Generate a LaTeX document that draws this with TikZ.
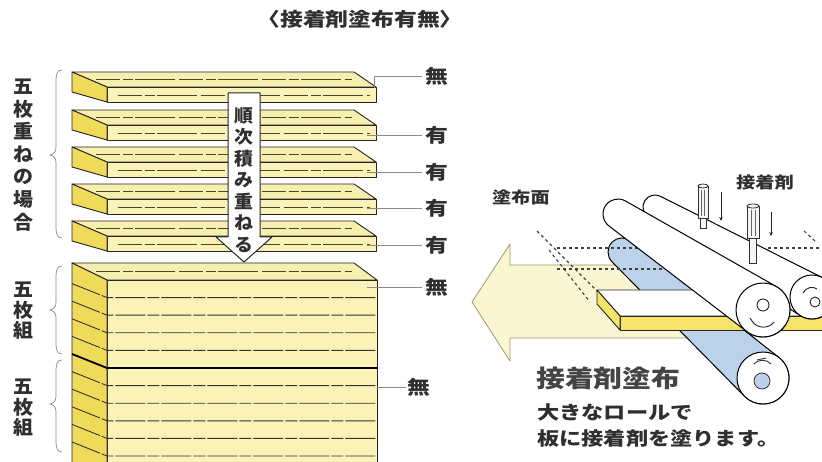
\documentclass[tikz,border=0pt]{standalone}
\usepackage{fontspec}
\usepackage{graphicx}
\usetikzlibrary{arrows.meta}
\newfontfamily\jp{Noto Sans CJK JP}[FakeStretch=1.2]
\newfontfamily\jpn{Noto Sans CJK JP}[FakeStretch=1.05]

\definecolor{woodtop}{HTML}{F7EFAE}
\definecolor{woodfront}{HTML}{FAF2B6}
\definecolor{woodend}{HTML}{F0DA5A}
\definecolor{grain}{HTML}{4A4628}
\definecolor{leadergray}{HTML}{8A8A8A}
\definecolor{ink}{HTML}{2F2F2F}
\definecolor{arrowfill}{HTML}{FBF6D2}
\definecolor{arrowline}{HTML}{9A9A68}
\definecolor{rollblue}{HTML}{BCD2EA}
\definecolor{plankyellow}{HTML}{F5E36A}

\tikzset{
  board/.style={draw=black!85, line width=0.9pt, line join=round},
  grainline/.style={draw=grain, line width=0.8pt,
    dash pattern=on 24pt off 3pt on 10pt off 2pt on 40pt off 4pt},
  layerline/.style={draw=black!80, line width=0.9pt,
    dash pattern=on 30pt off 2pt on 12pt off 2pt},
  leader/.style={draw=leadergray, line width=0.8pt},
  lbl/.style={font=\jp\bfseries\fontsize{19}{19}\selectfont, text=ink,
    inner xsep=3pt, inner ysep=0pt},
  vlbl/.style={font=\jpn\bfseries\fontsize{19}{22.6}\selectfont, text=ink,
    align=center, inner sep=0pt},
  bracestroke/.style={draw=leadergray, line width=0.7pt},
  roller/.style={draw=black, line width=1pt, line join=round},
  coatline/.style={draw=black!75, line width=1.1pt, dash pattern=on 3pt off 3pt},
  nozzlebody/.style={draw=black!80, fill=gray!8, line width=0.8pt},
  drip/.style={draw=black!85, line width=0.9pt, -{Stealth[length=4pt,width=3.5pt]}},
  caption/.style={text=ink, inner sep=0pt, anchor=west},
}

% one loose plank: #1 = y of its back top edge
\newcommand\plank[1]{%
  \filldraw[board, fill=woodtop] (72,#1) -- (354,#1) -- (376,#1+15) -- (107,#1+15) -- cycle;
  \filldraw[board, fill=woodfront] (107,#1+15) -- (376,#1+15) -- (376,#1+30) -- (107,#1+30) -- cycle;
  \filldraw[board, fill=woodend] (72,#1) -- (107,#1+15) -- (107,#1+30) -- (72,#1+20) -- cycle;
  \draw[grainline] (96,#1+7) -- (352,#1+7);
  \draw[grainline] (118,#1+23) -- (370,#1+23);
}

% curly brace on the left: top, tip, bottom
\newcommand\sidebrace[3]{%
  \draw[bracestroke] (62,#1) .. controls (57,#1) and (56,#1+4) .. (56,#1+12)
    -- (56,#2-8) .. controls (56,#2-3) and (54,#2-1) .. (50,#2)
    .. controls (54,#2+1) and (56,#2+3) .. (56,#2+8)
    -- (56,#3-12) .. controls (56,#3-4) and (57,#3) .. (62,#3);
}

% tapered roller: far cap centre (#1,#2) radius #3, near end centre (#4,#5) radius #6, fill #7
\newcommand\rollerhull[7]{%
  \pgfmathsetmacro\rlrdx{#4-#1}%
  \pgfmathsetmacro\rlrdy{#5-#2}%
  \pgfmathsetmacro\rlrlen{10*veclen(\rlrdx/10,\rlrdy/10)}%
  \pgfmathsetmacro\rlrphi{atan2(\rlrdy,\rlrdx)}%
  \pgfmathsetmacro\rlralp{asin((#6-#3)/\rlrlen)}%
  \pgfmathsetmacro\rlrlo{\rlrphi+90+\rlralp}%
  \pgfmathsetmacro\rlrup{\rlrphi-90-\rlralp}%
  \pgfmathsetmacro\rlrupp{\rlrup+360}%
  \filldraw[roller, fill=#7]
    ({#1+#3*cos(\rlrup)},{#2+#3*sin(\rlrup)})
    -- ({#4+#6*cos(\rlrup)},{#5+#6*sin(\rlrup)})
    arc[start angle=\rlrup, end angle=\rlrlo, radius=#6]
    -- ({#1+#3*cos(\rlrlo)},{#2+#3*sin(\rlrlo)})
    arc[start angle=\rlrlo, end angle=\rlrupp, radius=#3] -- cycle;
  \filldraw[roller, fill=white] (#4,#5) circle[radius=#6];
}

% glue nozzle: centre x, top, body bottom, tip bottom, half width
\newcommand\nozzle[5]{%
  \filldraw[nozzlebody] (#1-#5*0.6,#3-1) rectangle (#1+#5*0.6,#4);
  \filldraw[nozzlebody] (#1-#5,#2) rectangle (#1+#5,#3);
  \filldraw[nozzlebody] (#1,#2) ellipse[x radius=#5, y radius=2];
  \draw[black!60, line width=0.6pt] (#1-#5*0.35,#2+4) -- (#1-#5*0.35,#3-2);
  \draw[black!60, line width=0.6pt] (#1+#5*0.3,#2+4) -- (#1+#5*0.3,#3-2);
}

\begin{document}
\begin{tikzpicture}[x=1pt,y=-1pt]
\useasboundingbox (0,0) rectangle (822,462);
\fill[white] (0,0) rectangle (822,462);
\begin{scope}
\clip (0,0) rectangle (822,462);

% ---------- heading ----------
\node[font=\jp\bfseries\fontsize{19}{19}\selectfont, text=ink, inner sep=0pt] (heading) at (360,19) {〈接着剤塗布有無〉};

% ---------- five loose planks ----------
\foreach \yb in {72,110,147,184,221} { \plank{\yb} }

% ---------- glued block of two five-ply sets ----------
\filldraw[board, fill=woodfront] (107,280) -- (377,280) -- (377,470) -- (107,470) -- cycle;
\filldraw[board, fill=woodtop] (72,263) -- (354,263) -- (377,280) -- (107,280) -- cycle;
\filldraw[board, fill=woodend] (72,263) -- (107,280) -- (107,470) -- (72,470) -- cycle;
\draw[grainline] (96,271) -- (352,271);
\foreach \k in {1,2,3,4,6,7,8,9,10} {
  \draw[layerline] (72,{266+17.6*\k}) -- (107,{280+17.6*\k}) -- (377,{280+17.6*\k});
}
\draw[black, line width=1.8pt] (72,354) -- (107,368) -- (377,368);

% ---------- stacking arrow ----------
\filldraw[draw=black!85, fill=white, line width=1pt, line join=round]
  (228,93) -- (260,93) -- (260,237) -- (272,237) -- (244,262) -- (216,237) -- (228,237) -- cycle;
\node[vlbl, font=\jpn\bfseries\fontsize{18}{21.5}\selectfont] (stackverb) at (244,180) {順\\次\\積\\み\\重\\ね\\る};

% ---------- side labels and braces ----------
\node[vlbl] (fiveply) at (23,155) {五\\枚\\重\\ね\\の\\場\\合};
\node[vlbl, font=\jpn\bfseries\fontsize{19}{20.5}\selectfont] (setA) at (23,311) {五\\枚\\組};
\node[vlbl, font=\jpn\bfseries\fontsize{19}{20.5}\selectfont] (setB) at (23,408) {五\\枚\\組};
\sidebrace{70}{155}{238}
\sidebrace{266}{310}{354}
\sidebrace{360}{404}{452}

% ---------- glue yes/no labels ----------
\node[lbl] (g1) at (437,76) {無};
\node[lbl] (g2) at (437,135) {有};
\node[lbl] (g3) at (437,172) {有};
\node[lbl] (g4) at (437,208) {有};
\node[lbl] (g5) at (437,245) {有};
\node[lbl] (g6) at (437,287) {無};
\node[lbl, inner xsep=1pt] (g7) at (419,387) {無};
\draw[leader] (374,88) |- (g1.west);
\draw[leader] (367,135) -- (g2.west);
\draw[leader] (367,172) -- (g3.west);
\draw[leader] (367,208) -- (g4.west);
\draw[leader] (367,245) -- (g5.west);
\draw[leader] (367,287) -- (g6.west);
\draw[leader] (377,387) -- (g7.west);

% ---------- coating line: feed arrow ----------
\filldraw[draw=arrowline, fill=arrowfill, line width=0.8pt, line join=round]
  (472,302) -- (510,244) -- (510,265) -- (700,265) -- (700,338) -- (510,338) -- (510,361) -- cycle;

% lower glue roller (blue)
\rollerhull{622}{252}{14}{763}{378}{26}{rollblue}
\filldraw[draw=black!80, fill=rollblue, line width=0.8pt] (762,381) circle[radius=8];
\draw[black!80, line width=0.9pt] (754,364) .. controls (758,359) and (767,359) .. (771,364);
\draw[black!80, line width=0.9pt] (757,360) -- (766,358);

% coated surface markers
\draw[coatline] (557,248) -- (646,248);
\draw[coatline] (557,269) -- (666,269);
\draw[coatline] (537,231) -- (597,291);
\draw[coatline] (549,250) -- (590,302);

% plank being coated
\filldraw[board, fill=white] (597,290) -- (830,290) -- (830,316) -- (620,316) -- cycle;
\filldraw[board, fill=plankyellow] (620,316) -- (830,316) -- (830,330) -- (620,330) -- cycle;
\filldraw[board, fill=plankyellow] (597,290) -- (620,316) -- (620,330) -- (597,304) -- cycle;

% upper rollers
\rollerhull{655}{207}{12}{812}{297}{22}{white}
\draw[black!85, line width=0.9pt] (815,302) circle[radius=5];
\draw[black!85, line width=0.9pt] (803,293) .. controls (806,287) and (813,286) .. (817,289);
\rollerhull{618}{214}{15}{763}{310}{27}{white}
\draw[black!85, line width=0.9pt] (763,305) circle[radius=6];
\draw[black!85, line width=0.9pt] (752,321) .. controls (757,329) and (769,329) .. (774,322);
\draw[black!85, line width=0.9pt] (752,321) -- (750,318);

% glue nozzles with drip arrows
\nozzle{703}{186}{218}{228}{5}
\nozzle{753}{206}{238}{263}{6}
\coordinate (dripAtop) at (721,192);
\coordinate (dripAend) at (721,221);
\coordinate (dripBtop) at (771,212);
\coordinate (dripBend) at (771,236);
\draw[drip] (dripAtop) -- (dripAend);
\draw[drip] (dripBtop) -- (dripBend);

\draw[coatline] (768,248) -- (822,248);
\draw[coatline] (804,231) -- (816,242);

% ---------- captions ----------
\node[font=\jp\bfseries\fontsize{16}{16}\selectfont, text=ink, inner sep=0pt] (surface) at (521,197) {塗布面};
\node[font=\jp\bfseries\fontsize{16}{16}\selectfont, text=ink, inner sep=0pt] (glue) at (765,182) {接着剤};
\node[caption, font=\jp\bfseries\fontsize{24}{24}\selectfont, text=ink!90] (coattitle) at (536,378) {接着剤塗布};
\node[caption, font=\jp\bfseries\fontsize{18.5}{18.5}\selectfont] (coatline1) at (537,412) {大きなロールで};
\node[caption, font=\jp\bfseries\fontsize{18.5}{18.5}\selectfont] (coatline2) at (537,438) {板に接着剤を塗ります。};
\end{scope}
\end{tikzpicture}
\end{document}
